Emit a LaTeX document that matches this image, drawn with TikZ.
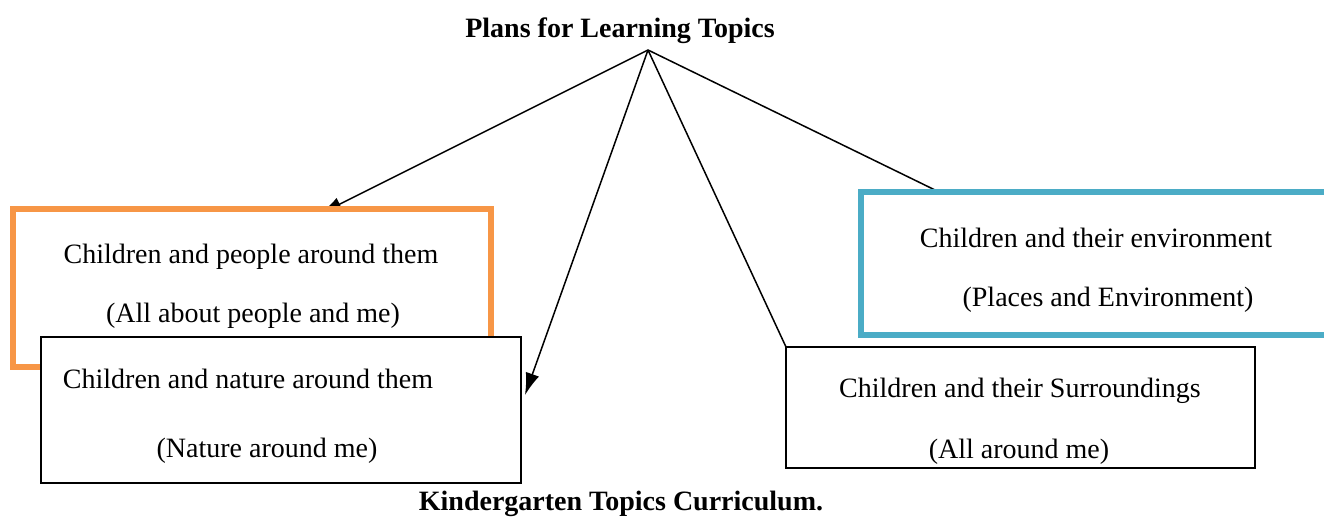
\documentclass[tikz,border=0pt]{standalone}
\usepackage{fontspec}
\setmainfont{Liberation Serif}
\usetikzlibrary{arrows.meta}
\definecolor{orangebox}{RGB}{247,150,70}
\definecolor{bluebox}{RGB}{75,172,198}
\begin{document}
\begin{tikzpicture}[x=0.5pt,y=-0.5pt,
  txt/.style={font=\fontsize{14}{17}\selectfont, inner sep=0pt, anchor=base},
  ttl/.style={font=\fontsize{14}{17}\selectfont\bfseries, inner sep=0pt, anchor=base},
  conn/.style={line width=0.75pt},
  arr/.style={conn,-{Latex[length=11pt,width=7pt]}},
  colbox/.style={line width=3pt, fill=white},
  blkbox/.style={line width=0.9pt, draw=black, fill=white}]
\useasboundingbox (0,0) rectangle (1324,522);
% apex and ends
\coordinate (apex) at (648,50);
\coordinate (endA) at (320,214);
\coordinate (endB) at (525,395);
\coordinate (endC) at (786,347);
\coordinate (endD) at (935,190);
\node[ttl] (title) at (620,38) {Plans for Learning Topics};
\draw[arr] (apex) -- (endA);
\draw[arr] (apex) -- (endB);
\draw[conn] (apex) -- (endC);
\draw[conn] (apex) -- (endD);
% boxes
\draw[colbox, draw=orangebox] (13,209) rectangle (491,367);
\draw[colbox, draw=bluebox] (861,192) rectangle (1340,335);
\draw[blkbox] (41,337) rectangle (521,483);
\draw[blkbox] (786,347) rectangle (1255,468);
% texts
\node[txt] (t1) at (251,264) {Children and people around them};
\node[txt] (t2) at (253,323) {(All about people and me)};
\node[txt] (t3) at (248,389) {Children and nature around them};
\node[txt] (t4) at (267,458) {(Nature around me)};
\node[txt] (t5) at (1096,248) {Children and their environment};
\node[txt] (t6) at (1108,307) {(Places and Environment)};
\node[txt] (t7) at (1020,398) {Children and their Surroundings};
\node[txt] (t8) at (1019,459) {(All around me)};
\node[ttl] (foot) at (621,511) {Kindergarten Topics Curriculum.};
\end{tikzpicture}
\end{document}
